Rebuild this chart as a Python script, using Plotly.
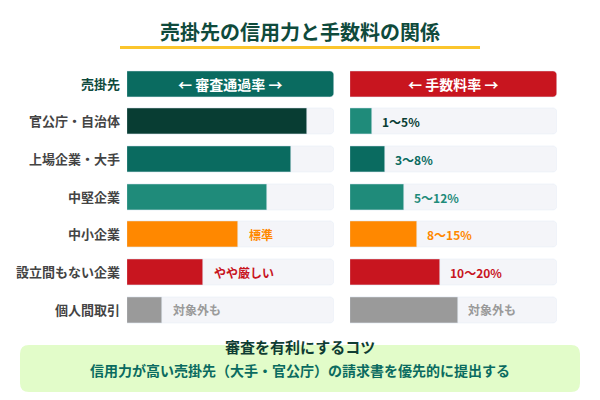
import plotly.graph_objects as go

# ---- data ----
header_label = "売掛先"
segments = ["官公庁・自治体", "上場企業・大手", "中堅企業", "中小企業", "設立間もない企業", "個人間取引"]
approval = [87, 79, 67.5, 53.5, 36.5, 17]          # 審査通過率 (relative bar length)
approval_labels = ["", "", "", "標準", "やや厳しい", "対象外も"]
fee_bar = [10.5, 17, 26, 32.5, 43.5, 52]          # 手数料率 (relative bar length)
fee_labels = ["1〜5%", "3〜8%", "5〜12%", "8〜15%", "10〜20%", "対象外も"]
approval_colors = ["#083d33", "#0a6b60", "#1f8b7a", "#ff8800", "#c8151f", "#9a9a9a"]
fee_colors = ["#1f8b7a", "#0a6b60", "#1f8b7a", "#ff8800", "#c8151f", "#9a9a9a"]
approval_text_colors = ["#083d33", "#0a6b60", "#1f8b7a", "#ff8800", "#c8151f", "#9a9a9a"]
fee_text_colors = ["#083d33", "#0a6b60", "#1f8b7a", "#ff8800", "#c8151f", "#9a9a9a"]
header_left = "← 審査通過率 →"
header_right = "← 手数料率 →"
title = "売掛先の信用力と手数料の関係"
tip_title = "審査を有利にするコツ"
tip_text = "信用力が高い売掛先（大手・官公庁）の請求書を優先的に提出する"

FONT = "Noto Sans CJK JP"
TRACK = "#f4f5f9"
W, H = 600, 400
cats = [header_label] + segments
full = [100] * len(segments)

def py(p):
    return 1 - p / H

fig = go.Figure()
bw = 0.69
# tracks
for xa in ["x", "x2"]:
    fig.add_trace(go.Bar(y=segments, x=full, orientation="h", xaxis=xa, yaxis="y",
                         marker=dict(color=TRACK, cornerradius=4), width=bw,
                         hoverinfo="skip", showlegend=False))
# headers
fig.add_trace(go.Bar(y=[header_label], x=[100], orientation="h", xaxis="x", yaxis="y",
                     marker=dict(color="#0a6b60", cornerradius=4), width=bw,
                     text=[header_left], textposition="inside", insidetextanchor="middle",
                     textfont=dict(family=FONT, size=14, color="white", weight="bold"),
                     showlegend=False))
fig.add_trace(go.Bar(y=[header_label], x=[100], orientation="h", xaxis="x2", yaxis="y",
                     marker=dict(color="#c8151f", cornerradius=4), width=bw,
                     text=[header_right], textposition="inside", insidetextanchor="middle",
                     textfont=dict(family=FONT, size=14, color="white", weight="bold"),
                     showlegend=False))
# values
fig.add_trace(go.Bar(y=segments, x=approval, orientation="h", xaxis="x", yaxis="y",
                     marker=dict(color=approval_colors, cornerradius=4), width=bw, showlegend=False))
fig.add_trace(go.Bar(y=segments, x=fee_bar, orientation="h", xaxis="x2", yaxis="y",
                     marker=dict(color=fee_colors, cornerradius=4), width=bw, showlegend=False))

annotations = []
for seg, v, lab, c in zip(segments, approval, approval_labels, approval_text_colors):
    if lab:
        annotations.append(dict(x=v, y=seg, xref="x", yref="y", text=lab, showarrow=False,
                                xanchor="left", yanchor="middle", xshift=9,
                                font=dict(family=FONT, size=12, color=c, weight="bold")))
for seg, v, lab, c in zip(segments, fee_bar, fee_labels, fee_text_colors):
    annotations.append(dict(x=v, y=seg, xref="x2", yref="y", text=lab, showarrow=False,
                            xanchor="left", yanchor="middle", xshift=8,
                            font=dict(family=FONT, size=12, color=c, weight="bold")))
annotations.append(dict(x=0.5, y=py(32), xref="paper", yref="paper", text=title, showarrow=False,
                        xanchor="center", yanchor="middle",
                        font=dict(family=FONT, size=20, color="#0f4a3c", weight="bold")))
annotations.append(dict(x=0.5, y=py(346), xref="paper", yref="paper", text=tip_title, showarrow=False,
                        xanchor="center", yanchor="middle",
                        font=dict(family=FONT, size=15, color="#0f3d33", weight="bold")))
annotations.append(dict(x=0.5, y=py(370), xref="paper", yref="paper", text=tip_text, showarrow=False,
                        xanchor="center", yanchor="middle",
                        font=dict(family=FONT, size=14, color="#0a6b60", weight="bold")))

def rrect(x0, y0, x1, y1, r):
    X0, X1 = x0 / W, x1 / W
    Y0, Y1 = py(y0), py(y1)
    rx, ry = r / W, r / H
    return (f"M{X0+rx},{Y0} L{X1-rx},{Y0} Q{X1},{Y0} {X1},{Y0-ry} L{X1},{Y1+ry} "
            f"Q{X1},{Y1} {X1-rx},{Y1} L{X0+rx},{Y1} Q{X0},{Y1} {X0},{Y1+ry} "
            f"L{X0},{Y0-ry} Q{X0},{Y0} {X0+rx},{Y0} Z")

shapes = [
    dict(type="rect", xref="paper", yref="paper", x0=120 / W, x1=480 / W, y0=py(49), y1=py(46),
         fillcolor="#fbc52d", line=dict(width=0)),
    dict(type="path", xref="paper", yref="paper", path=rrect(20, 345, 580, 392, 9),
         fillcolor="#e2fcc9", line=dict(width=0), layer="below"),
]

ticktext = [f"<span style='color:#0f4a3c'>{header_label}</span>"] + segments

y_top, y_bot = 65.2, 328.8
fig.update_layout(
    width=W, height=H, margin=dict(l=0, r=0, t=0, b=0),
    paper_bgcolor="white", plot_bgcolor="white",
    barmode="overlay", bargap=0,
    annotations=annotations, shapes=shapes,
    xaxis=dict(domain=[127 / W, 334 / W], range=[0, 100], visible=False, fixedrange=True),
    xaxis2=dict(domain=[350 / W, 557 / W], range=[0, 100], visible=False, anchor="y", fixedrange=True),
    yaxis=dict(domain=[py(y_bot), py(y_top)], type="category", categoryorder="array",
               categoryarray=cats, range=[len(cats) - 0.5, -0.5], tickvals=cats, ticktext=ticktext,
               showgrid=False, zeroline=False, showline=False, ticks="", ticklabelstandoff=6,
               tickfont=dict(family=FONT, size=13, color="#444444", weight="bold"), anchor="x"),
)

fig.write_html("out.html")
